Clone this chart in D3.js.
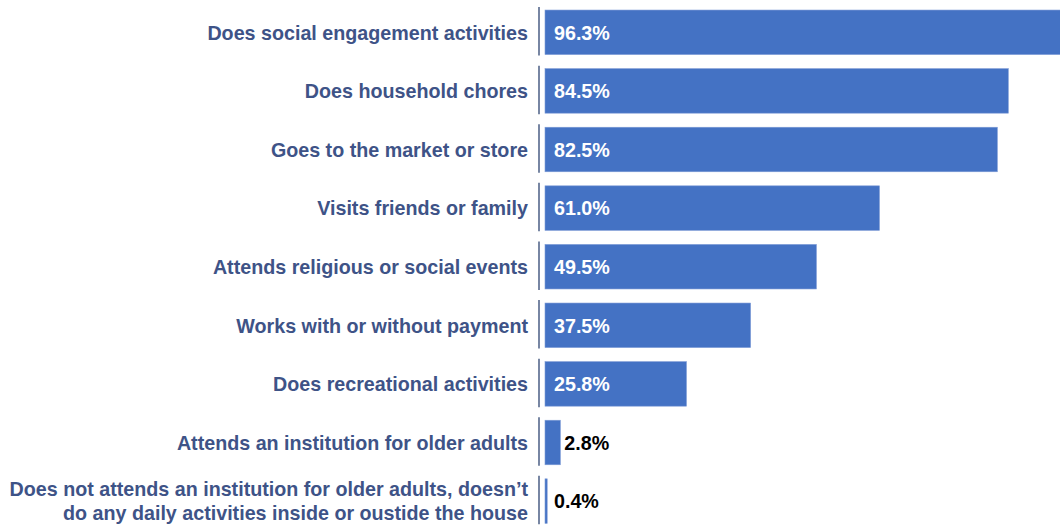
<!DOCTYPE html>
<html>
<head>
<meta charset="utf-8">
<script src="https://cdn.jsdelivr.net/npm/d3@7"></script>
<style>
  html, body { margin: 0; padding: 0; background: #ffffff; }
  svg { display: block; }
</style>
</head>
<body>
<svg id="chart" width="1060" height="527"></svg>
<script>
// Daily activities of older adults (share of respondents, %)
const categories = [
  "Does social engagement activities",
  "Does household chores",
  "Goes to the market or store",
  "Visits friends or family",
  "Attends religious or social events",
  "Works with or without payment",
  "Does recreational activities",
  "Attends an institution for older adults",
  "Does not attends an institution for older adults, doesn’t|do any daily activities inside or oustide the house"
];
const values = [96.3, 84.5, 82.5, 61.0, 49.5, 37.5, 25.8, 2.8, 0.4];
const valueLabels = ["96.3%", "84.5%", "82.5%", "61.0%", "49.5%", "37.5%", "25.8%", "2.8%", "0.4%"];

const W = 1060, H = 527;
const svg = d3.select("#chart");

const axisX = 539;
const barX0 = 545;

const x = d3.scaleLinear().domain([0, 84.5]).range([barX0, 1008.3]);
const y = d3.scaleBand()
  .domain(categories)
  .range([3, 530.4])
  .paddingInner(0.24)
  .paddingOuter(0.12);

const font = "'Liberation Sans', Arial, Helvetica, sans-serif";
const labelColor = "#3E5387";
const barColor = "#4472C4";

svg.append("defs").append("clipPath").attr("id", "plotClip")
  .append("rect").attr("x", 0).attr("y", 0).attr("width", W).attr("height", H);

const g = svg.append("g").attr("clip-path", "url(#plotClip)");

// bars
g.selectAll("rect.bar")
  .data(categories)
  .join("rect")
  .attr("class", "bar")
  .attr("x", barX0)
  .attr("y", d => y(d))
  .attr("width", (d, i) => x(values[i]) - barX0)
  .attr("height", y.bandwidth())
  .attr("fill", barColor)
  .attr("stroke", "#7d9bd6")
  .attr("stroke-width", 0.6);

// axis segments, one per category
g.selectAll("line.axis")
  .data(categories)
  .join("line")
  .attr("class", "axis")
  .attr("x1", axisX).attr("x2", axisX)
  .attr("y1", d => y(d) - 3)
  .attr("y2", d => y(d) + y.bandwidth() + 1)
  .attr("stroke", "#56688C")
  .attr("stroke-width", 1.6);

// category labels
const catG = g.selectAll("text.cat")
  .data(categories)
  .join("text")
  .attr("class", "cat")
  .attr("text-anchor", "end")
  .attr("font-family", font)
  .attr("font-weight", "bold")
  .attr("font-size", "19.7px")
  .attr("fill", labelColor);

catG.each(function(d) {
  const lines = d.split("|");
  const cy = y(d) + y.bandwidth() / 2;
  const lh = 24;
  const t = d3.select(this);
  lines.forEach((ln, k) => {
    t.append("tspan")
      .attr("x", axisX - 11)
      .attr("y", cy + (k - (lines.length - 1) / 2) * lh + 0.5)
      .attr("dy", "0.35em")
      .text(ln);
  });
});

// value labels: inside bars where they fit, otherwise just past the bar end
const minInside = 15;
g.selectAll("text.val")
  .data(categories)
  .join("text")
  .attr("class", "val")
  .attr("font-family", font)
  .attr("font-weight", "bold")
  .attr("font-size", "19.7px")
  .attr("dy", "0.35em")
  .attr("y", d => y(d) + y.bandwidth() / 2 + 0.5)
  .attr("x", (d, i) => values[i] >= minInside ? barX0 + 9 : Math.max(x(values[i]) + 4, barX0 + 9))
  .attr("fill", (d, i) => values[i] >= minInside ? "#ffffff" : "#000000")
  .text((d, i) => valueLabels[i]);
</script>
</body>
</html>
